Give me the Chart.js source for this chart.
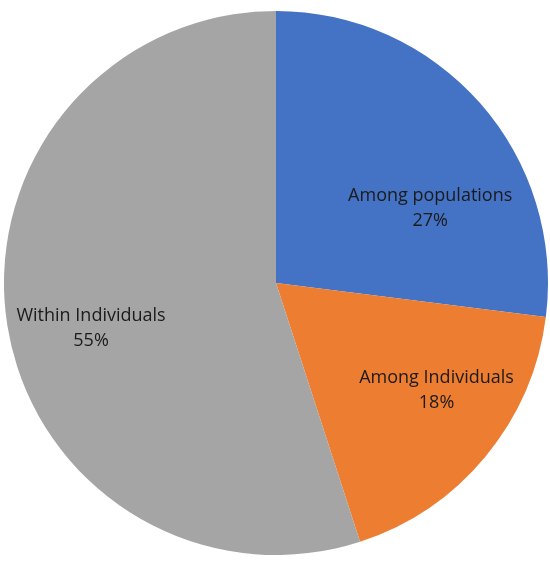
<!DOCTYPE html>
<html lang="en">
  <head>
    <meta charset="UTF-8" />
    <title>Variance components pie</title>
    <script src="https://cdn.jsdelivr.net/npm/chart.js@4"></script>
    <style>
      html, body { margin: 0; padding: 0; background: #fff; }
      #wrap { width: 550px; height: 566px; position: relative; }
    </style>
  </head>
  <body>
    <div id="wrap"><canvas id="myChart"></canvas></div>
    <script>
      // data (percent of total variation)
      const categories = ['Among populations', 'Among Individuals', 'Within Individuals'];
      const percents = [27, 18, 55];
      const colors = ['#4472C4', '#ED7D31', '#A5A5A5'];

      // where each label sits inside its slice: fraction along the arc, fraction of radius
      const labelSpots = [[0.66, 0.63], [0.41, 0.71], [0.476, 0.70]];

      const sliceLabels = {
        id: 'sliceLabels',
        afterDatasetsDraw(chart) {
          const ctx = chart.ctx;
          const meta = chart.getDatasetMeta(0);
          ctx.save();
          ctx.fillStyle = '#1b1b1b';
          ctx.font = '18px "Open Sans", sans-serif';
          ctx.textAlign = 'center';
          ctx.textBaseline = 'middle';
          meta.data.forEach((arc, i) => {
            const p = arc.getProps(['x', 'y', 'startAngle', 'endAngle', 'outerRadius'], true);
            const a = p.startAngle + (p.endAngle - p.startAngle) * labelSpots[i][0];
            const r = p.outerRadius * labelSpots[i][1];
            const cx = p.x + Math.cos(a) * r;
            const cy = p.y + Math.sin(a) * r;
            ctx.fillText(categories[i], cx, cy - 12.5);
            ctx.fillText(percents[i] + '%', cx, cy + 13);
          });
          ctx.restore();
        }
      };

      const ctx = document.getElementById('myChart').getContext('2d');
      const myChart = new Chart(ctx, {
        type: 'pie',
        data: {
          labels: categories,
          datasets: [{
            data: percents,
            backgroundColor: colors,
            borderWidth: 0
          }]
        },
        options: {
          responsive: true,
          maintainAspectRatio: false,
          animation: false,
          layout: { padding: { top: 11, bottom: 11, left: 4, right: 2 } },
          plugins: {
            legend: { display: false },
            tooltip: { enabled: false }
          }
        },
        plugins: [sliceLabels]
      });
    </script>
  </body>
</html>
